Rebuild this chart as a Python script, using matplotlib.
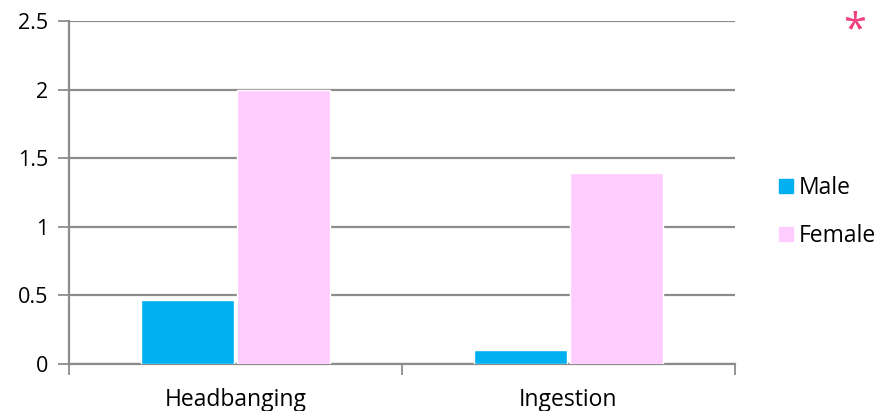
import matplotlib.pyplot as plt
from matplotlib.lines import Line2D
import numpy as np

categories = ['Headbanging', 'Ingestion']
male = [0.47, 0.10]
female = [2.0, 1.39]
series_names = ['Male', 'Female']
yticks = [0, 0.5, 1, 1.5, 2, 2.5]
ytick_labels = ['0', '0.5', '1', '1.5', '2', '2.5']

plt.rcParams['font.family'] = ['Open Sans', 'DejaVu Sans']

fig = plt.figure(figsize=(8.8, 4.11), dpi=100)
ax = fig.add_axes([0.0784, 0.1144, 0.7568, 0.8345])

x = np.arange(len(categories))
w = 0.28
off = 0.145
ax.bar(x - off, male, w, color='#00b0f0', edgecolor='white', linewidth=1, zorder=3)
ax.bar(x + off, female, w, color='#ffccff', edgecolor='white', linewidth=1, zorder=3)

ax.set_xlim(-0.5, 1.5)
ax.set_ylim(0, 2.5)
ax.set_yticks(yticks)
ax.set_yticklabels(ytick_labels)
ax.yaxis.grid(True, color='#8c8c8c', linewidth=1.6, zorder=0)
ax.set_axisbelow(True)

# category boundary ticks on x axis
ax.set_xticks([-0.5, 0.5, 1.5])
ax.set_xticklabels([])
ax.set_xticks(x, minor=True)
ax.set_xticklabels(categories, minor=True, fontsize=16.5)
ax.tick_params(axis='x', which='minor', length=0, pad=17)
ax.tick_params(axis='x', which='major', length=8, width=1.3, color='#8c8c8c')
ax.tick_params(axis='y', length=8, width=1.3, color='#8c8c8c', labelsize=15.5, pad=7)

for s in ['top', 'right']:
    ax.spines[s].set_visible(False)
for s in ['left', 'bottom']:
    ax.spines[s].set_color('#8c8c8c')
    ax.spines[s].set_linewidth(1.6)

handles = [Line2D([], [], marker='s', linestyle='none', markersize=10, color=c)
           for c in ['#00b0f0', '#ffccff']]
fig.legend(handles, series_names, loc='center left', bbox_to_anchor=(0.883, 0.484),
           frameon=False, fontsize=16.5, handletextpad=0.15, labelspacing=1.05,
           handlelength=0.8, borderaxespad=0, borderpad=0)

fig.text(0.971, 0.925, '*', color='#f0407f', fontsize=30, ha='center', va='center')

fig.savefig('out.png', dpi=100)
